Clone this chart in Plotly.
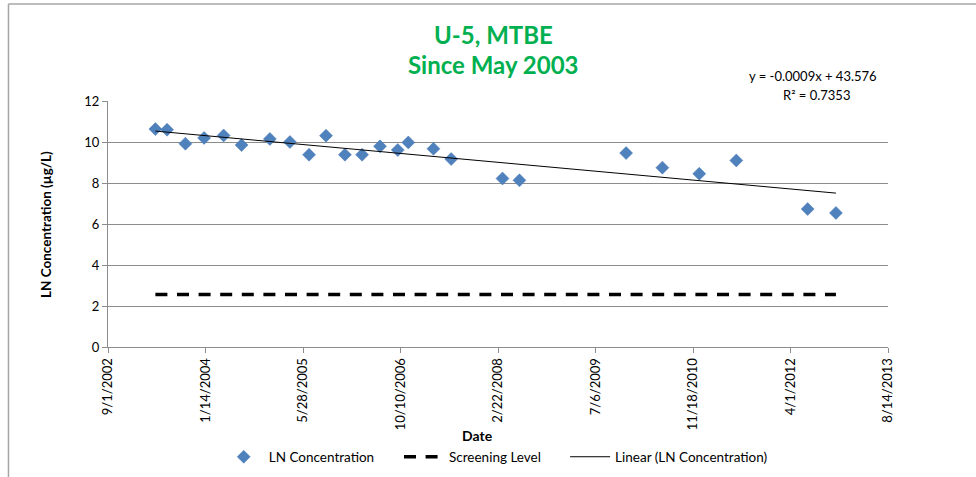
import numpy as np
import pandas as pd
import plotly.graph_objects as go

# Sampling dates and natural-log MTBE concentrations at well U-5
sample_dates = [
    "2003-05-02", "2003-07-01", "2003-10-03", "2004-01-07", "2004-04-16",
    "2004-07-17", "2004-12-09", "2005-03-22", "2005-06-28", "2005-09-23",
    "2005-12-29", "2006-03-27", "2006-06-27", "2006-09-26", "2006-11-19",
    "2007-03-28", "2007-06-27", "2008-03-16", "2008-06-11", "2009-12-10",
    "2010-06-14", "2010-12-20", "2011-06-28", "2012-06-28", "2012-11-20",
]
ln_conc = [
    10.63, 10.60, 9.92, 10.20, 10.32,
    9.85, 10.15, 10.00, 9.38, 10.31,
    9.38, 9.38, 9.79, 9.61, 9.98,
    9.67, 9.17, 8.22, 8.13, 9.46,
    8.75, 8.45, 9.10, 6.73, 6.54,
]
screening_level = 2.56

# Date axis: ticks every 500 days
tick_dates = ["2002-09-01", "2004-01-14", "2005-05-28", "2006-10-10", "2008-02-22",
              "2009-07-06", "2010-11-18", "2012-04-01", "2013-08-14"]
tick_labels = ["9/1/2002", "1/14/2004", "5/28/2005", "10/10/2006", "2/22/2008",
               "7/6/2009", "11/18/2010", "4/1/2012", "8/14/2013"]

y_ticks = [0, 2, 4, 6, 8, 10, 12]

trend_label = "y = -0.0009x + 43.576"
r2_label = "R² = 0.7353"

dates = pd.to_datetime(sample_dates)
days = (dates - pd.Timestamp("1899-12-30")).days.values.astype(float)
slope, intercept = np.polyfit(days, ln_conc, 1)
trend_x = [dates.min(), dates.max()]
trend_y = [slope * days.min() + intercept, slope * days.max() + intercept]

FONT = "Lato"
GRID = "#8c8c8c"

fig = go.Figure()

fig.add_trace(go.Scatter(
    x=dates, y=ln_conc, mode="markers", name="LN Concentration",
    legend="legend",
    marker=dict(symbol="diamond", size=10, color="#4f81bd",
                line=dict(width=0.5, color="#4a7ab4")),
))
fig.add_trace(go.Scatter(
    x=trend_x, y=[screening_level, screening_level], mode="lines",
    name="Screening Level", legend="legend2",
    line=dict(color="black", width=3.5, dash="12px,9.6px"),
))
fig.add_trace(go.Scatter(
    x=trend_x, y=trend_y, mode="lines", name="Linear (LN Concentration)",
    legend="legend3",
    line=dict(color="black", width=1),
))

annotations = [
    dict(text="<b>U-5, MTBE</b>", x=0.5, y=1.272, xref="paper", yref="paper",
         xanchor="center", yanchor="middle", showarrow=False,
         font=dict(family=FONT, size=24, color="#00b050"), xshift=-5),
    dict(text="<b>Since May 2003</b>", x=0.5, y=1.15, xref="paper", yref="paper",
         xanchor="center", yanchor="middle", showarrow=False,
         font=dict(family=FONT, size=24, color="#00b050"), xshift=-5),
    dict(text=trend_label, x=0.9885, y=1.1016, xref="paper", yref="paper",
         xanchor="right", yanchor="middle", showarrow=False,
         font=dict(family=FONT, size=13, color="black")),
    dict(text=r2_label, x=0.9077, y=1.0244, xref="paper", yref="paper",
         xanchor="center", yanchor="middle", showarrow=False,
         font=dict(family=FONT, size=13, color="black")),
    dict(text="<b>Date</b>", x=0.4737, y=-0.358, xref="paper", yref="paper",
         xanchor="center", yanchor="middle", showarrow=False,
         font=dict(family=FONT, size=14, color="black")),
    dict(text="<b>LN Concentration (µg/L)</b>", x=-0.0795, y=0.5, xref="paper",
         yref="paper", xanchor="center", yanchor="middle", textangle=-90,
         showarrow=False, font=dict(family=FONT, size=13.5, color="black")),
]

shapes = [
    dict(type="line", xref="paper", yref="paper", x0=-0.1276, x1=-0.1276,
         y0=1.394, y1=-0.53, line=dict(color="#a6a6a6", width=1.5)),
    dict(type="line", xref="paper", yref="paper", x0=-0.1276, x1=1.15,
         y0=1.394, y1=1.394, line=dict(color="#a6a6a6", width=1.5)),
]


def legend_box(x_left):
    return dict(orientation="h", xref="container", x=x_left, xanchor="left",
                yref="container", y=0.042, yanchor="middle",
                font=dict(family=FONT, size=13.5), itemwidth=40,
                bgcolor="rgba(0,0,0,0)")


fig.update_layout(
    width=976, height=477,
    margin=dict(l=108, r=88, t=101, b=130, autoexpand=False),
    paper_bgcolor="white", plot_bgcolor="white",
    font=dict(family=FONT, size=13, color="black"),
    showlegend=True,
    legend=legend_box(0.2241),
    legend2=legend_box(0.4088),
    legend3=legend_box(0.579),
    annotations=annotations,
    shapes=shapes,
)

fig.update_xaxes(
    type="date", range=["2002-09-01", "2013-08-14"], automargin=False,
    tickvals=pd.to_datetime(tick_dates), ticktext=tick_labels, tickangle=-90,
    showgrid=False, showline=True, linecolor=GRID, linewidth=1,
    ticks="outside", ticklen=5, tickcolor=GRID, zeroline=False,
    tickfont=dict(family=FONT, size=13),
)
fig.update_yaxes(
    range=[0, 12], tickvals=y_ticks, showgrid=True, gridcolor=GRID, gridwidth=1,
    automargin=False,
    showline=True, linecolor=GRID, linewidth=1, ticks="outside", ticklen=5,
    tickcolor=GRID, zeroline=False, tickfont=dict(family=FONT, size=13),
)

fig.write_html("out.html")
